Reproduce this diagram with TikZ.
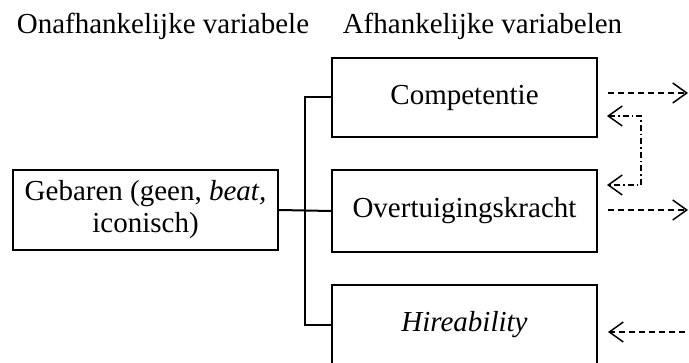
\documentclass[tikz,border=0pt]{standalone}
\usepackage{fontspec}
\setmainfont{Liberation Serif}
\usetikzlibrary{arrows.meta,calc}
\begin{document}
\begin{tikzpicture}[x=1pt,y=-1pt,
  every node/.style={font=\fontsize{29}{32}\selectfont},
  title/.style={anchor=base,inner sep=0pt},
  box/.style={draw,line width=2pt,minimum width=265pt,minimum height=80pt,inner sep=0pt,align=center},
  link/.style={line width=2pt},
  dep/.style={line width=1.5pt,dash pattern=on 6pt off 4pt,-{Straight Barb[length=14pt,width=20pt]}},
  cor/.style={line width=1.5pt,dash pattern=on 6pt off 3pt on 1.5pt off 3pt,{Straight Barb[length=14pt,width=20pt]}-{Straight Barb[length=14pt,width=20pt]}}
]
\useasboundingbox (0,0) rectangle (689,363);
\clip (0,0) rectangle (689,363);
\node[title] (t1) at (163,34) {Onafhankelijke variabele};
\node[title] (t2) at (482.5,34) {Afhankelijke variabelen};
\node[box] (geb) at (145.5,210) {Gebaren (geen, \textit{beat,}\\iconisch)};
\node[box,minimum height=79pt] (comp) at (464.5,97.5) {Competentie};
\node[box,minimum height=82pt] (over) at (464.5,211) {Overtuigingskracht};
\node[box] (hire) at (464.5,325) {\textit{Hireability}};
\coordinate (j) at (305,211);
\draw[link] (geb.east) -- (over.west);
\draw[link] (comp.west) -| (j) |- (hire.west);
% outgoing / incoming dashed arrows
\coordinate (c1s) at ($(comp.east)+(10,-4.5)$);
\coordinate (c1e) at (688,93);
\draw[dep] (c1s) -- (c1e);
\coordinate (o1s) at ($(over.east)+(10,-1)$);
\coordinate (o1e) at (688,210);
\draw[dep] (o1s) -- (o1e);
\coordinate (h1s) at (695,332);
\coordinate (h1e) at ($(hire.east)+(10,7)$);
\draw[dep] (h1s) -- (h1e);
% correlation between Competentie and Overtuigingskracht
\coordinate (ca) at ($(comp.east)+(9,18.5)$);
\coordinate (ob) at ($(over.east)+(9,-26)$);
\draw[cor] (ca) -- (641,116) -- (641,185) -- (ob);
\end{tikzpicture}
\end{document}
